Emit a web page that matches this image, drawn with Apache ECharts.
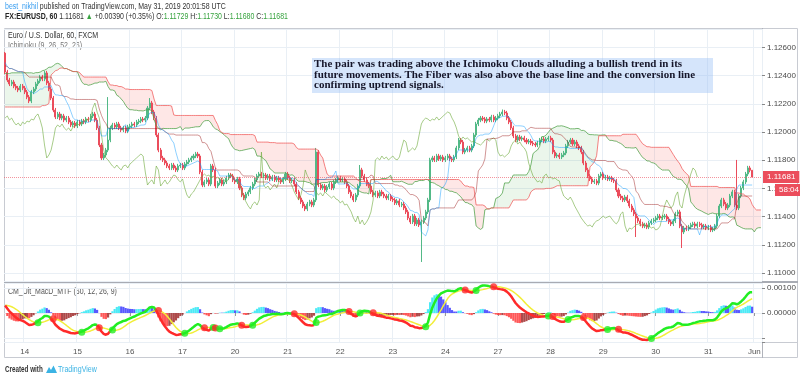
<!DOCTYPE html>
<html><head><meta charset="utf-8">
<script src="https://cdn.jsdelivr.net/npm/echarts@6/dist/echarts.min.js"></script>
<style>html,body{margin:0;padding:0;background:#fff;}#c{width:800px;height:378px;}</style>
</head><body><div id="c"></div>
<script>
// ---- DATA (hourly EUR/USD, FXCM) ----
// 78 hourly closes before the visible window (needed for Ichimoku / MACD warm-up)
const preCloses = [
1.11960,1.11945,1.11930,1.11940,1.11925,1.11910,1.11920,1.11935,1.11915,1.11900,1.11905,1.11920,1.11940,1.11930,1.11915,1.11900,1.11890,1.11905,1.11920,1.11910,1.11895,1.11885,
1.12290,1.12310,1.12330,1.12320,1.12345,1.12360,1.12350,1.12370,1.12390,1.12380,1.12400,1.12420,
1.12410,1.12430,1.12445,1.12435,1.12450,1.12470,1.12460,1.12440,1.12430,1.12450,1.12465,1.12455,
1.12440,1.12420,1.12400,1.12410,1.12390,1.12380,1.12400,1.12420,1.12410,1.12430,1.12450,1.12440,
1.12430,1.12410,1.12400,1.12380,1.12395,1.12410,1.12430,1.12420,1.12440,1.12460,1.12450,1.12470,
1.12490,1.12480,1.12500,1.12520,1.12510,1.12530,1.12550,1.12560];
// visible hourly closes, 13 May 15:00 -> 31 May 20:00
const closes = [
1.12426,1.12369,1.12341,1.12355,1.12326,1.12312,1.12298,1.12326,1.12312,1.12284,1.12248,1.12220,
1.12284,1.12305,1.12341,1.12362,1.12390,1.12376,1.12419,1.12348,1.12305,1.12241,1.12156,1.12107,
1.12128,1.12099,1.12114,1.12085,1.12099,1.12071,1.12050,1.12064,1.12043,1.12071,1.12057,1.12078,
1.12071,1.12092,1.12085,1.12114,1.12128,1.12085,1.12029,1.11908,1.11816,1.11837,1.11872,1.11943,
1.12029,1.12050,1.12036,1.12057,1.12029,1.12014,1.12029,1.12007,1.12036,1.12043,1.12057,1.12050,
1.12071,1.12078,1.12092,1.12085,1.12099,1.12170,1.12206,1.12142,1.12099,1.11979,1.11872,1.11816,
1.11802,1.11780,1.11759,1.11745,1.11766,1.11745,1.11731,1.11759,1.11766,1.11745,1.11773,1.11787,
1.11802,1.11816,1.11830,1.11844,1.11830,1.11716,1.11624,1.11646,1.11660,1.11631,1.11759,1.11731,
1.11617,1.11638,1.11660,1.11631,1.11646,1.11674,1.11695,1.11688,1.11660,1.11646,1.11667,1.11603,
1.11553,1.11532,1.11560,1.11575,1.11603,1.11631,1.11660,1.11688,1.11702,1.11688,1.11695,1.11674,
1.11688,1.11667,1.11681,1.11660,1.11674,1.11660,1.11646,1.11667,1.11702,1.11674,1.11653,1.11660,
1.11631,1.11575,1.11532,1.11504,1.11475,1.11454,1.11489,1.11504,1.11482,1.11518,1.11858,1.11624,
1.11603,1.11617,1.11589,1.11610,1.11631,1.11603,1.11646,1.11660,1.11674,1.11660,1.11667,1.11646,
1.11617,1.11575,1.11546,1.11518,1.11553,1.11617,1.11731,1.11688,1.11660,1.11631,1.11617,1.11575,
1.11553,1.11568,1.11546,1.11575,1.11560,1.11546,1.11532,1.11546,1.11525,1.11518,1.11497,1.11511,
1.11482,1.11489,1.11461,1.11433,1.11390,1.11362,1.11404,1.11348,1.11376,1.11341,1.11362,1.11390,
1.11433,1.11518,1.11802,1.11816,1.11802,1.11830,1.11809,1.11823,1.11802,1.11816,1.11830,1.11809,
1.11802,1.11823,1.11887,1.11943,1.11929,1.11858,1.11872,1.11887,1.11872,1.11901,1.11979,1.12057,
1.12085,1.12099,1.12092,1.12078,1.12092,1.12085,1.12107,1.12085,1.12099,1.12114,1.12128,1.12142,
1.12135,1.12099,1.12071,1.12029,1.11972,1.11943,1.11965,1.11950,1.11958,1.11943,1.11929,1.11936,
1.11922,1.11915,1.11908,1.11922,1.11943,1.11950,1.11936,1.11950,1.11958,1.11943,1.11858,1.11830,
1.11837,1.11823,1.11837,1.11851,1.11901,1.11929,1.11943,1.11915,1.11929,1.11901,1.11887,1.11858,
1.11780,1.11731,1.11688,1.11667,1.11646,1.11653,1.11638,1.11688,1.11702,1.11674,1.11681,1.11667,
1.11674,1.11660,1.11653,1.11589,1.11546,1.11532,1.11518,1.11539,1.11511,1.11475,1.11447,1.11419,
1.11390,1.11369,1.11348,1.11333,1.11341,1.11326,1.11355,1.11369,1.11376,1.11390,1.11404,1.11390,
1.11397,1.11404,1.11383,1.11362,1.11348,1.11369,1.11419,1.11433,1.11333,1.11291,1.11319,1.11312,
1.11326,1.11341,1.11348,1.11333,1.11348,1.11341,1.11326,1.11333,1.11319,1.11326,1.11305,1.11312,
1.11333,1.11404,1.11475,1.11518,1.11489,1.11461,1.11482,1.11546,1.11575,1.11482,1.11461,1.11546,
1.11603,1.11646,1.11702,1.11745,1.11729,1.11681];
// typical wick size and individually read highs / lows  [visible index, high, low]
const defaultWick = 0.00015;
const wickOverrides = [[0,1.12568,null],[47,1.12248,null],[66,1.12241,null],[142,1.11887,null],
  [162,1.11766,null],[190,null,1.11078],[227,1.12160,null],[288,null,1.11255],[309,null,1.11177],
  [334,1.11802,null],[341,1.11730,1.11680]];
const dayTickIndex = [9,33,57,81,105,129,153,177,201,225,249,273,297,321,342];
const dayTickText = ['14','15','16','17','20','21','22','23','24','27','28','29','30','31','Jun'];
const lastPrice = 1.11681;
const countdown = '58:04';

// ---- derived series ----
const PRE = preCloses.length;
const all = preCloses.concat(closes);
const N = all.length;
const VIS = 346;
const opens = all.map((c,k)=> k ? all[k-1] : c);
const highs = all.map((c,k)=> Math.max(opens[k], c) + defaultWick);
const lows = all.map((c,k)=> Math.min(opens[k], c) - defaultWick);
wickOverrides.forEach(([i,h,l]) => { const k=i+PRE; if(h!=null) highs[k]=h; if(l!=null) lows[k]=l; });
function donchian(k,len){ if(k<0||k>=N) return null; let h=-Infinity,l=Infinity;
  for(let j=Math.max(0,k-len+1);j<=k;j++){ if(highs[j]>h)h=highs[j]; if(lows[j]<l)l=lows[j]; } return (h+l)/2; }
const cats=[], candleData=[], tenkan=[], kijun=[], senA=[], senB=[], chikou=[];
for(let i=0;i<VIS;i++){
  const k=i+PRE; cats.push(String(i));
  if(k<N) candleData.push([opens[k], all[k], lows[k], highs[k]]);
  tenkan.push(k<N? donchian(k,9):null);
  kijun.push(k<N? donchian(k,26):null);
  const s=k-25;
  senA.push(s<N? (donchian(s,9)+donchian(s,26))/2 : null);
  senB.push(s<N? donchian(s,52) : null);
  chikou.push(k+25<N? all[k+25] : null);
}
const cloudBase = senA.map((a,i)=> a==null||senB[i]==null? null : Math.min(a,senB[i]));
const cloudUp = senA.map((a,i)=> a==null||senB[i]==null? null : Math.max(a-senB[i],0));
const cloudDn = senA.map((a,i)=> a==null||senB[i]==null? null : Math.max(senB[i]-a,0));

function ema(arr,n){ const a=2/(n+1), out=[]; arr.forEach((v,k)=> out.push(k? a*v+(1-a)*out[k-1] : v)); return out; }
const e12=ema(all,12), e26=ema(all,26);
const macdAll=all.map((v,k)=>e12[k]-e26[k]);
const sigAll=macdAll.map((v,k)=>{ if(k<8) return null; let s=0; for(let j=k-8;j<=k;j++) s+=macdAll[j]; return s/9; });
const macd=[], sig=[], hist=[], macdG=[], macdR=[], dots=[];
for(let i=0;i<closes.length;i++){ const k=i+PRE; macd.push(macdAll[k]); sig.push(sigAll[k]); }
const isG = i => i<macd.length && macd[i]>=sig[i];
for(let i=0;i<macd.length;i++){
  const k=i+PRE, h=macdAll[k]-sigAll[k], hp=macdAll[k-1]-sigAll[k-1];
  let col = h>0 ? (h>hp?'#2ee6f5':'#3b3bff') : (h<hp?'#ff3b3b':'#a02a2a');
  hist.push({value:h, itemStyle:{color:col, opacity:0.85}});
  macdG.push(isG(i)||isG(i+1)? macd[i] : null);
  macdR.push((!isG(i))||(i+1<macd.length && !isG(i+1))? macd[i] : null);
  if(i>0 && (isG(i)!==isG(i-1))) dots.push({value:[String(i), sig[i]], itemStyle:{color: isG(i)?'#22ee22':'#ff2a2a'}});
}

const daySet = new Set(dayTickIndex);
const dayMap = {}; dayTickIndex.forEach((d,j)=> dayMap[d]=dayTickText[j]);
const FONT = 'Liberation Sans';
const gridCol = '#e9eff5';

const chart = echarts.init(document.getElementById('c'), null, {renderer:'canvas'});
const lineS = (name,data,color,w,extra) => Object.assign({type:'line', name, data, xAxisIndex:0, yAxisIndex:0,
  showSymbol:false, symbol:'none', connectNulls:false, lineStyle:{color, width:w}, silent:true, z:3}, extra||{});
const priceLabel = {show:true, position:'end', distance:1, backgroundColor:'#eb4d5c', color:'#ffffff', opacity:1, padding:[2,4,2,4], fontSize:8, fontFamily:FONT};

chart.setOption({
  animation:false,
  textStyle:{fontFamily:FONT},
  grid:[{left:4,right:38,top:29,height:252},{left:4,right:38,top:283,height:59}],
  xAxis:[
    {type:'category', gridIndex:0, data:cats, boundaryGap:true, axisLine:{show:false}, axisTick:{show:false}, axisLabel:{show:false},
     splitLine:{show:true, interval:(i)=>daySet.has(i), lineStyle:{color:gridCol}}},
    {type:'category', gridIndex:1, data:cats, boundaryGap:true, axisLine:{show:false},
     axisTick:{show:true, interval:(i)=>daySet.has(i), alignWithLabel:true, length:3, lineStyle:{color:'#999'}},
     axisLabel:{show:true, interval:(i)=>daySet.has(i), formatter:(v)=>dayMap[+v]||'', fontSize:8, color:'#555', margin:6},
     splitLine:{show:true, interval:(i)=>daySet.has(i), lineStyle:{color:gridCol}}}
  ],
  yAxis:[
    {type:'value', gridIndex:0, position:'right', min:1.10943, max:1.12731, splitNumber:9, scale:true,
     axisLine:{show:false}, axisTick:{show:true, length:3, lineStyle:{color:'#888'}},
     axisLabel:{fontSize:8, color:'#4a4a4a', margin:5, showMinLabel:false, showMaxLabel:false, formatter:(v)=>v.toFixed(5)},
     splitLine:{show:true, lineStyle:{color:gridCol}}},
    {type:'value', gridIndex:1, position:'right', min:-0.00116, max:0.0012, splitNumber:2,
     axisLine:{show:false}, axisTick:{show:true, length:3, lineStyle:{color:'#888'}},
     axisLabel:{fontSize:8, color:'#4a4a4a', margin:5, showMaxLabel:false, formatter:(v)=> v< -1e-9 ? '' : v.toFixed(5)},
     splitLine:{show:true, lineStyle:{color:gridCol}}}
  ],
  series:[
    lineS('cloudBase', cloudBase, 'rgba(0,0,0,0)', 0, {stack:'cloud', z:1}),
    lineS('cloudUp', cloudUp, 'rgba(0,0,0,0)', 0, {stack:'cloud', z:1, areaStyle:{color:'rgba(76,175,80,0.16)'}}),
    lineS('cloudDn', cloudDn, 'rgba(0,0,0,0)', 0, {stack:'cloud', z:1, areaStyle:{color:'rgba(244,67,54,0.18)'}}),
    {type:'candlestick', name:'EURUSD', xAxisIndex:0, yAxisIndex:0, data:candleData, barWidth:'70%', silent:true, z:2,
     itemStyle:{color:'#53b987', color0:'#eb4d5c', borderColor:'#53b987', borderColor0:'#eb4d5c', borderWidth:1}},
    lineS('senkouA', senA, 'rgba(76,160,70,0.75)', 1),
    lineS('senkouB', senB, 'rgba(240,90,90,0.75)', 1),
    lineS('chikou', chikou, 'rgba(110,170,60,0.6)', 1),
    lineS('kijun', kijun, 'rgba(153,21,21,0.45)', 1),
    lineS('tenkan', tenkan, 'rgba(4,150,255,0.45)', 1),
    {type:'line', name:'lastPrice', xAxisIndex:0, yAxisIndex:0, data:[], silent:true, z:6,
     markLine:{symbol:'none', silent:true, animation:false, precision:5, data:[
       {yAxis:lastPrice, lineStyle:{color:'rgba(235,77,92,0.6)', type:'dotted', width:1},
        label:Object.assign({}, priceLabel, {formatter:lastPrice.toFixed(5)})},
       {yAxis:lastPrice, lineStyle:{color:'rgba(255,255,255,0)', width:0},
        label:Object.assign({}, priceLabel, {formatter:countdown, offset:[12,13]})}
     ]}},
    {type:'bar', name:'hist', xAxisIndex:1, yAxisIndex:1, data:hist, barWidth:'100%', silent:true, z:2},
    {type:'line', name:'signal', xAxisIndex:1, yAxisIndex:1, data:sig, showSymbol:false, symbol:'none', lineStyle:{color:'#f2ee3a', width:1.5}, silent:true, z:3},
    {type:'line', name:'macdR', xAxisIndex:1, yAxisIndex:1, data:macdR, showSymbol:false, symbol:'none', lineStyle:{color:'#ff2a2a', width:2.5}, silent:true, z:4},
    {type:'line', name:'macdG', xAxisIndex:1, yAxisIndex:1, data:macdG, showSymbol:false, symbol:'none', lineStyle:{color:'#22ee22', width:2.5}, silent:true, z:4},
    {type:'scatter', name:'cross', xAxisIndex:1, yAxisIndex:1, data:dots, symbolSize:7, silent:true, z:5}
  ],
  graphic:[
    {type:'rect', shape:{x:4.5,y:28.5,width:793,height:329}, style:{fill:null, stroke:'#c8cbd2', lineWidth:1}, silent:true},
    {type:'line', shape:{x1:762.5,y1:28,x2:762.5,y2:358}, style:{stroke:'#b0b3bb', lineWidth:1}, silent:true},
    {type:'line', shape:{x1:4,y1:282,x2:798,y2:282}, style:{stroke:'#a8abb3', lineWidth:2}, silent:true},
    {type:'line', shape:{x1:4,y1:342.5,x2:798,y2:342.5}, style:{stroke:'#c8cbd2', lineWidth:1}, silent:true},
    {type:'text', x:5, y:2, scaleX:0.82, silent:true, style:{text:'{a|best_nikhil}{b| published on TradingView.com, May 31, 2019 20:01:58 UTC}',
      rich:{a:{fill:'#3a9ef0', fontSize:8.5, fontFamily:FONT}, b:{fill:'#333', fontSize:8.5, fontFamily:FONT}}}},
    {type:'text', x:5, y:12, scaleX:0.82, silent:true, style:{text:'{k|FX:EURUSD, 60}{b| 1.11681 }{g|▲}{b| +0.00390 (+0.35%) O:}{g|1.11729}{b| H:}{g|1.11730}{b| L:}{g|1.11680}{b| C:}{g|1.11681}',
      rich:{k:{fill:'#222', fontSize:8.5, fontWeight:'bold', fontFamily:FONT}, b:{fill:'#333', fontSize:8.5, fontFamily:FONT}, g:{fill:'#37a33f', fontSize:8.5, fontFamily:FONT}}}},
    {type:'text', x:8, y:31, scaleX:0.83, silent:true, style:{text:'Euro / U.S. Dollar, 60, FXCM', fill:'#333', fontSize:8.5, fontFamily:FONT}},
    {type:'text', x:8, y:41, scaleX:0.83, silent:true, style:{text:'Ichimoku (9, 26, 52, 26)', fill:'#777', fontSize:8.5, fontFamily:FONT}},
    {type:'text', x:8, y:287, scaleX:0.82, silent:true, style:{text:'CM_Ult_MacD_MTF (60, 12, 26, 9)', fill:'#555', fontSize:8.5, fontFamily:FONT}},
    {type:'rect', shape:{x:312,y:58,width:401,height:35}, style:{fill:'rgba(150,190,245,0.4)'}, silent:true, z:50},
    {type:'text', x:314, y:59, silent:true, z:51, style:{text:'The pair was trading above the Ichimoku Clouds alluding a bullish trend in its\nfuture movements. The Fiber was also above the base line and the conversion line\nconfirming uptrend signals.',
      fill:'#16162a', font:'bold 11px "Liberation Serif"', lineHeight:10.5}},
    {type:'text', x:5, y:365, scaleX:0.74, silent:true, style:{text:'Created with', fill:'#333', fontSize:8.5, fontWeight:'bold', fontFamily:FONT}},
    {type:'polygon', shape:{points:[[46,373],[49,367],[51,370],[53.5,365.5],[57,373]]}, style:{fill:'#3bb3e4'}, silent:true},
    {type:'text', x:58, y:365, scaleX:0.83, silent:true, style:{text:'TradingView', fill:'#3bb3e4', fontSize:8.5, fontFamily:FONT}}
  ]
});
</script></body></html>
